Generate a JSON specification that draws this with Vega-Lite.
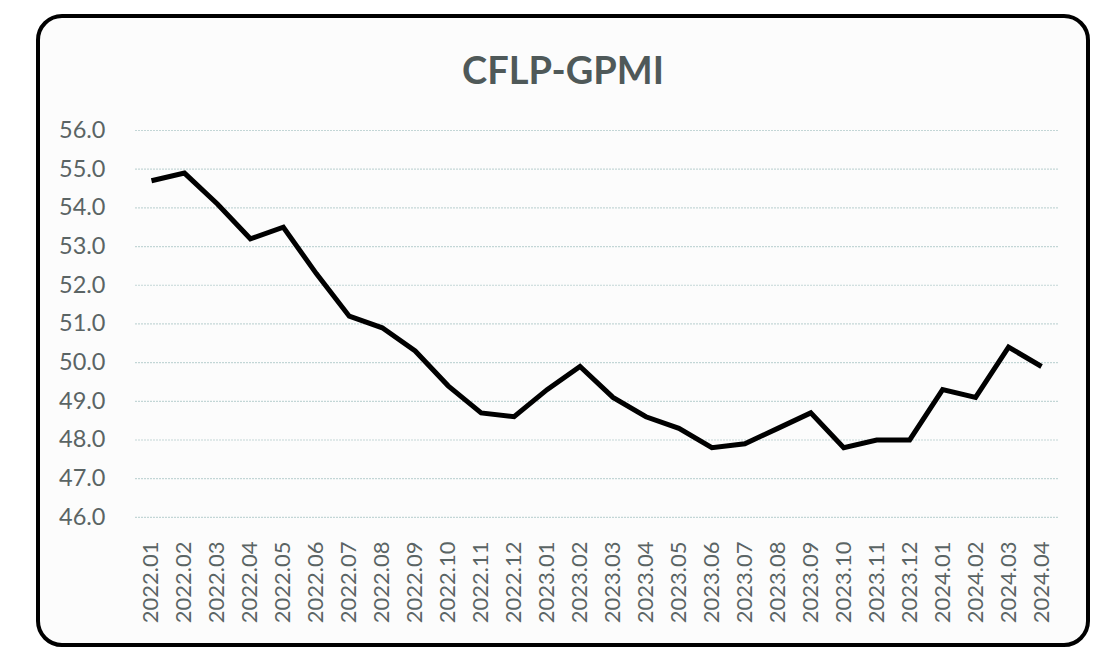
{
  "$schema": "https://vega.github.io/schema/vega-lite/v6.json",
  "width": 1050,
  "height": 629,
  "autosize": {"type": "none"},
  "padding": {"left": 38, "top": 16, "right": 31, "bottom": 16},
  "background": "white",
  "config": {
    "view": {"fill": "#fcfcfc", "stroke": "#000000", "strokeWidth": 4, "cornerRadius": 24},
    "font": "Lato"
  },
  "title": {
    "text": "CFLP-GPMI",
    "font": "Lato",
    "fontSize": 38,
    "fontWeight": "bold",
    "color": "#4f5959",
    "anchor": "middle",
    "frame": "group",
    "baseline": "alphabetic",
    "offset": -68,
    "dy": 38
  },
  "datasets": {
    "pmi": [
      {"month": "2022.01", "value": 54.7},
      {"month": "2022.02", "value": 54.9},
      {"month": "2022.03", "value": 54.1},
      {"month": "2022.04", "value": 53.2},
      {"month": "2022.05", "value": 53.5},
      {"month": "2022.06", "value": 52.3},
      {"month": "2022.07", "value": 51.2},
      {"month": "2022.08", "value": 50.9},
      {"month": "2022.09", "value": 50.3},
      {"month": "2022.10", "value": 49.4},
      {"month": "2022.11", "value": 48.7},
      {"month": "2022.12", "value": 48.6},
      {"month": "2023.01", "value": 49.3},
      {"month": "2023.02", "value": 49.9},
      {"month": "2023.03", "value": 49.1},
      {"month": "2023.04", "value": 48.6},
      {"month": "2023.05", "value": 48.3},
      {"month": "2023.06", "value": 47.8},
      {"month": "2023.07", "value": 47.9},
      {"month": "2023.08", "value": 48.3},
      {"month": "2023.09", "value": 48.7},
      {"month": "2023.10", "value": 47.8},
      {"month": "2023.11", "value": 48.0},
      {"month": "2023.12", "value": 48.0},
      {"month": "2024.01", "value": 49.3},
      {"month": "2024.02", "value": 49.1},
      {"month": "2024.03", "value": 50.4},
      {"month": "2024.04", "value": 49.9}
    ],
    "grid": [
      {"v": 46}, {"v": 47}, {"v": 48}, {"v": 49}, {"v": 50}, {"v": 51},
      {"v": 52}, {"v": 53}, {"v": 54}, {"v": 55}, {"v": 56}
    ]
  },
  "layer": [
    {
      "data": {"name": "grid"},
      "mark": {"type": "rule", "color": "#c3d6d6", "strokeWidth": 1.2, "strokeDash": [2, 1]},
      "encoding": {
        "y": {"field": "v", "type": "quantitative"},
        "x": {"datum": "2022.01", "type": "ordinal", "bandPosition": 0},
        "x2": {"datum": "2024.04", "bandPosition": 1}
      }
    },
    {
      "data": {"name": "pmi"},
      "mark": {"type": "line", "color": "#000000", "strokeWidth": 5, "strokeJoin": "miter"},
      "encoding": {
        "x": {
          "field": "month",
          "type": "ordinal",
          "scale": {"type": "band", "paddingInner": 0, "paddingOuter": 0, "range": [97, 1020]},
          "axis": {
            "title": null,
            "labelAngle": -90,
            "labelAlign": "right",
            "labelBaseline": "middle",
            "labelFont": "Lato",
            "labelFontSize": 22,
            "labelColor": "#5a6464",
            "domain": false,
            "ticks": false,
            "tickSize": 0,
            "labelPadding": 0,
            "offset": -104,
            "grid": false
          }
        },
        "y": {
          "field": "value",
          "type": "quantitative",
          "scale": {"domain": [42.7, 58.96], "nice": false, "zero": false},
          "axis": {
            "title": null,
            "values": [46, 47, 48, 49, 50, 51, 52, 53, 54, 55, 56],
            "format": ".1f",
            "labelFont": "Lato",
            "labelFontSize": 23.5,
            "labelColor": "#5a6464",
            "domain": false,
            "ticks": false,
            "tickSize": 0,
            "labelPadding": 0,
            "offset": -67,
            "grid": false
          }
        }
      }
    }
  ]
}
